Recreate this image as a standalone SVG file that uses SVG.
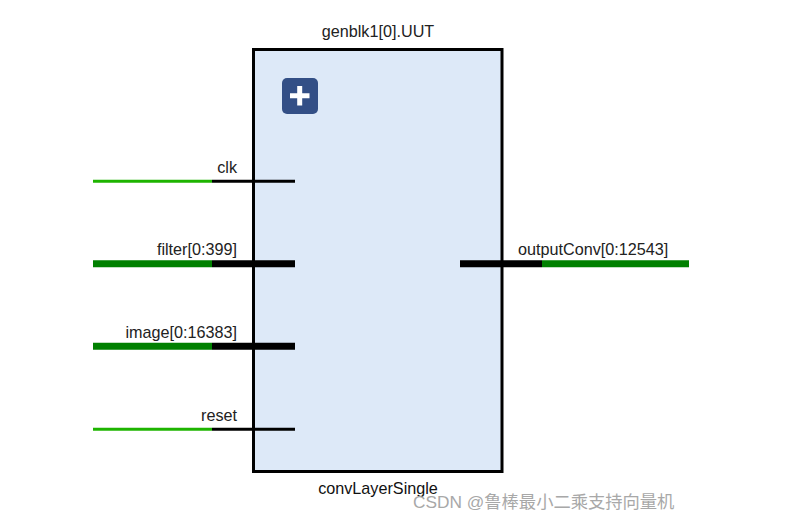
<svg xmlns="http://www.w3.org/2000/svg" width="799" height="522" viewBox="0 0 799 522">
<style>
text{font-family:"Liberation Sans",Arial,"Noto Sans CJK SC",sans-serif;font-size:16.2px;fill:#222}
.e{text-anchor:end}
.m{text-anchor:middle}
.thin{stroke-width:3;fill:none}
.thick{stroke-width:7;fill:none}
.k{stroke:#000}
.lg{stroke:#1eb400}
.dg{stroke:#008000}
</style>
<rect width="799" height="522" fill="#fff"/>
<g id="module">
<rect x="253.500" y="49.500" width="248.500" height="422" fill="#dde9f8" stroke="#000" stroke-width="3"/>
<text class="m" x="378" y="37">genblk1[0].UUT</text>
<text class="m" x="378" y="494" style="fill:#111">convLayerSingle</text>
</g>
<g id="expand">
<rect x="282" y="78" width="36" height="36" rx="5" fill="#334f86"/>
<path d="M299.700 86V105.500M290 95.800H309.500" stroke="#fff" stroke-width="5" fill="none"/>
</g>
<g id="connectors">
<path class="thin lg" d="M93 181.200H212"/>
<path class="thin k" d="M212 181.200H295"/>
<path class="thick dg" d="M93 263.700H212"/>
<path class="thick k" d="M212 263.700H295"/>
<path class="thick dg" d="M93 346.200H212"/>
<path class="thick k" d="M212 346.200H295"/>
<path class="thin lg" d="M93 429.200H212"/>
<path class="thin k" d="M212 429.200H295"/>
<path class="thick k" d="M460 263.700H542"/>
<path class="thick dg" d="M542 263.700H689"/>
</g>
<g id="port-clk"><text class="e" x="237" y="173">clk</text></g>
<g id="port-filter"><text class="e" x="237" y="255">filter[0:399]</text></g>
<g id="port-image"><text class="e" x="237" y="338">image[0:16383]</text></g>
<g id="port-reset"><text class="e" x="237" y="421">reset</text></g>
<g id="port-output"><text x="518" y="255">outputConv[0:12543]</text></g>
<text x="413" y="508" style="font-size:17.3px;fill:#a8a8a8;font-family:'Liberation Sans','Noto Sans CJK SC',sans-serif">CSDN @鲁棒最小二乘支持向量机</text>
</svg>
